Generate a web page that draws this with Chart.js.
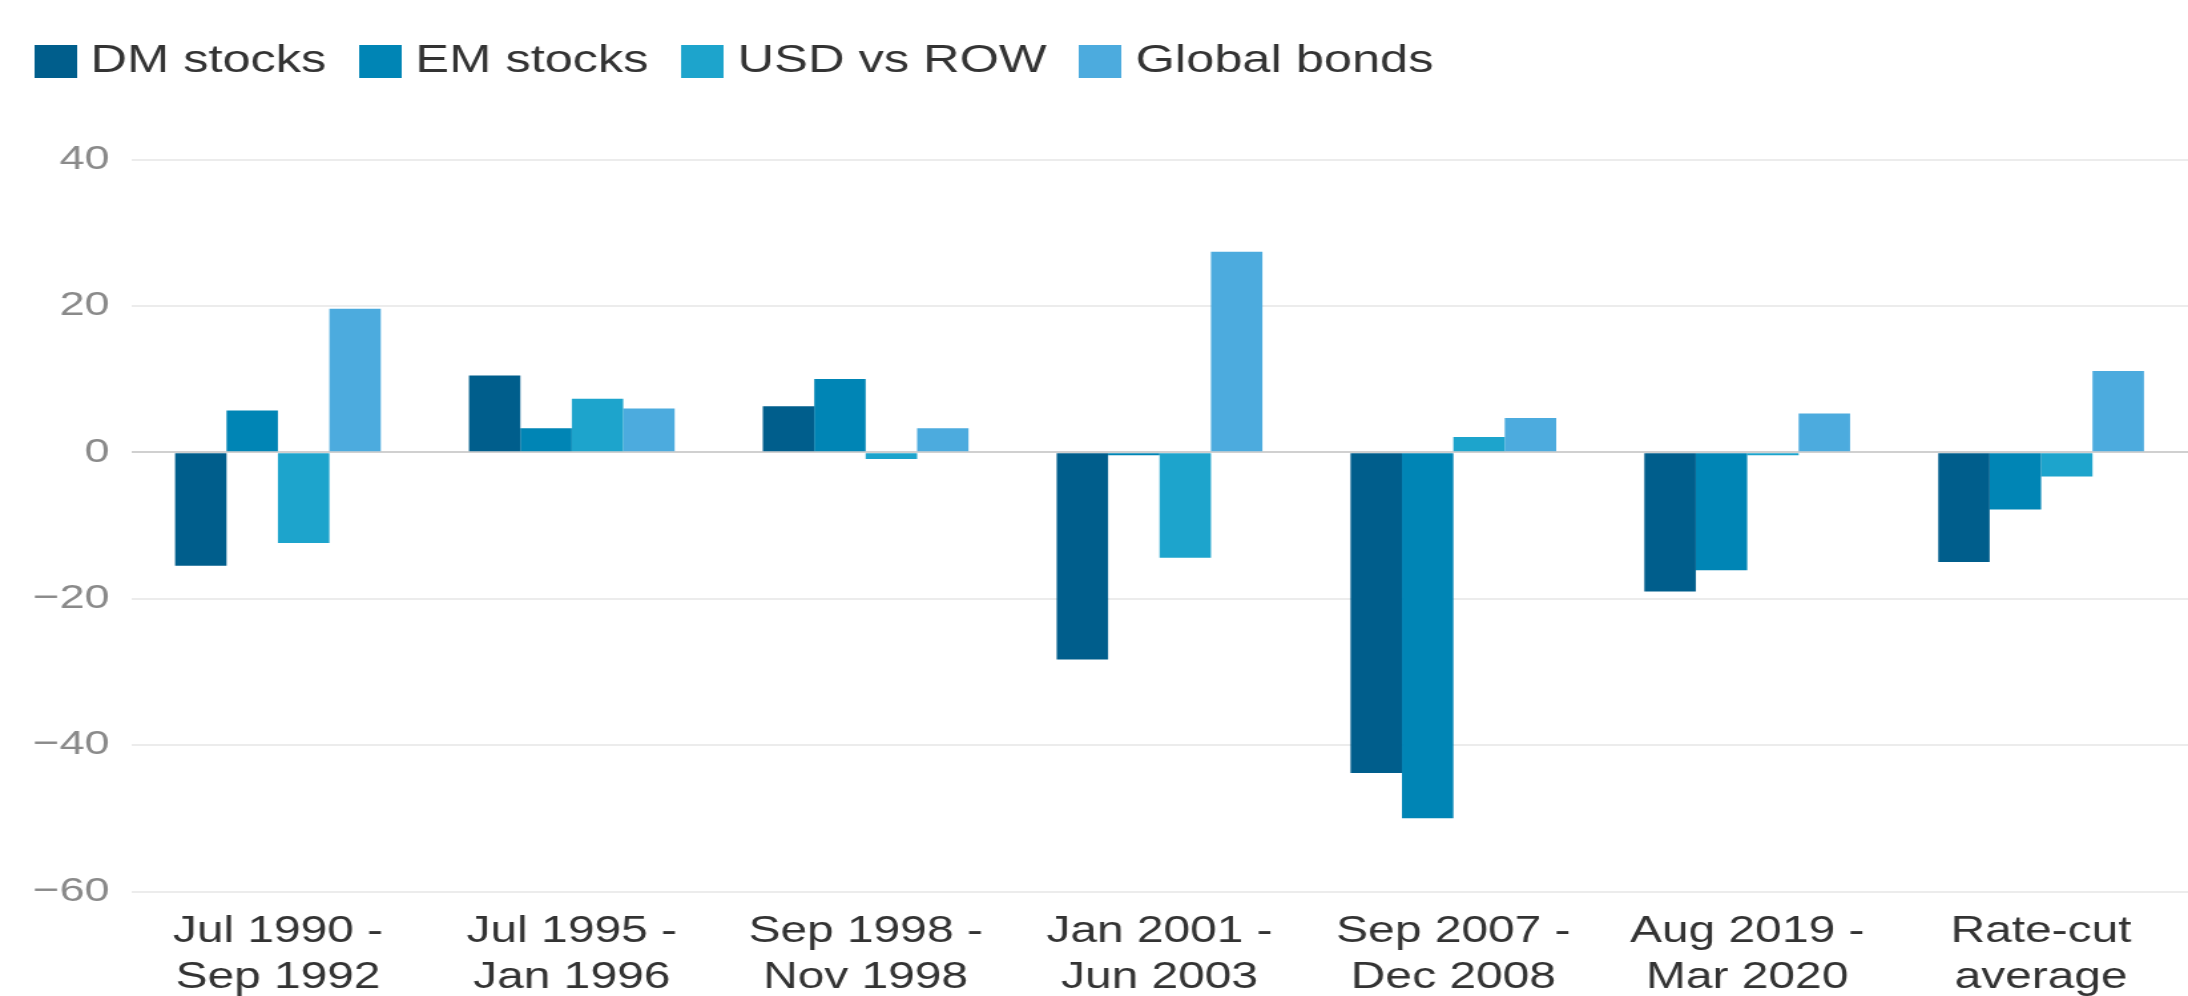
<!DOCTYPE html>
<html>
<head>
<meta charset="utf-8">
<script src="https://cdn.jsdelivr.net/npm/chart.js@4"></script>
<style>
    html, body { margin: 0; padding: 0; background: #fff; }
</style>
</head>
<body>
<!-- drawn narrow, shown wide -->
<canvas id="chart" width="1645" height="996" style="width:2188px;height:996px"></canvas>
<script>
const categories = [
    ['Jul 1990 -', 'Sep 1992'],
    ['Jul 1995 -', 'Jan 1996'],
    ['Sep 1998 -', 'Nov 1998'],
    ['Jan 2001 -', 'Jun 2003'],
    ['Sep 2007 -', 'Dec 2008'],
    ['Aug 2019 -', 'Mar 2020'],
    ['Rate-cut', 'average'],
];
const seriesNames = ['DM stocks', 'EM stocks', 'USD vs ROW', 'Global bonds'];
const dmStocks = [-15.5, 10.5, 6.3, -28.3, -43.8, -19.0, -15.0];
const emStocks = [5.7, 3.3, 10.0, -0.4, -50.0, -16.1, -7.8];
const usdVsRow = [-12.4, 7.3, -0.9, -14.4, 2.1, -0.4, -3.3];
const globalBonds = [19.6, 6.0, 3.3, 27.4, 4.7, 5.3, 11.1];
const yTicks = [-60, -40, -20, 0, 20, 40];

const colors = ['#005e8c', '#0085b5', '#1da4cc', '#4cabde'];
const FONT = "'Liberation Sans', Arial, sans-serif";

// square swatches for the legend, drawn as image point styles so the
// label text can sit closer to them than the default box allows
const swatches = colors.map(c => {
    const cv = document.createElement('canvas');
    cv.width = 32;
    cv.height = 33;
    const g = cv.getContext('2d');
    g.fillStyle = c;
    g.fillRect(0, 0, 32, 33);
    return cv;
});

// legend gets a fixed height so the plot starts where it should
const legendHeight = {
    id: 'legendHeight',
    afterInit(chart) {
        const fit = chart.legend.fit;
        chart.legend.fit = function () {
            fit.call(this);
            this.height = 150;
        };
    }
};

const ctx = document.getElementById('chart');
new Chart(ctx, {
    type: 'bar',
    data: {
        labels: categories,
        datasets: [dmStocks, emStocks, usdVsRow, globalBonds].map((d, i) => ({
            label: seriesNames[i],
            data: d,
            backgroundColor: colors[i],
            borderWidth: 0,
            categoryPercentage: 0.7,
            barPercentage: 1.0,
        })),
    },
    options: {
        responsive: false,
        animation: false,
        devicePixelRatio: 1,
        layout: { padding: { left: 1, right: -7, top: 9.5, bottom: 0 } },
        plugins: {
            tooltip: { enabled: false },
            legend: {
                position: 'top',
                align: 'start',
                labels: {
                    usePointStyle: true,
                    pointStyleWidth: 15,
                    boxHeight: 33,
                    padding: 33,
                    color: '#333333',
                    font: { family: FONT, size: 38 },
                    generateLabels(chart) {
                        const items = Chart.defaults.plugins.legend.labels.generateLabels(chart);
                        items.forEach(it => { it.pointStyle = swatches[it.datasetIndex]; });
                        return items;
                    },
                },
            },
        },
        scales: {
            x: {
                grid: { display: false, drawTicks: false },
                border: { display: false },
                ticks: {
                    color: '#333333',
                    padding: 18,
                    maxRotation: 0,
                    autoSkip: false,
                    font: { family: FONT, size: 36, lineHeight: 1.27 },
                },
                afterFit(scale) { scale.height = 104.5; },
            },
            y: {
                min: yTicks[0],
                max: yTicks[yTicks.length - 1],
                afterBuildTicks(scale) { scale.ticks = yTicks.map(v => ({ value: v })); },
                grid: {
                    drawTicks: false,
                    lineWidth: 2,
                    color: c => (c.tick && c.tick.value === 0 ? '#d0d0d0' : '#ececec'),
                },
                border: { display: false },
                ticks: {
                    color: '#8a8a8a',
                    padding: 16,
                    font: { family: FONT, size: 34 },
                    callback: v => (v < 0 ? '\u2212' + Math.abs(v) : String(v)),
                },
                afterFit(scale) { scale.width = 97.5; },
            },
        },
    },
    plugins: [legendHeight],
});
</script>
</body>
</html>
